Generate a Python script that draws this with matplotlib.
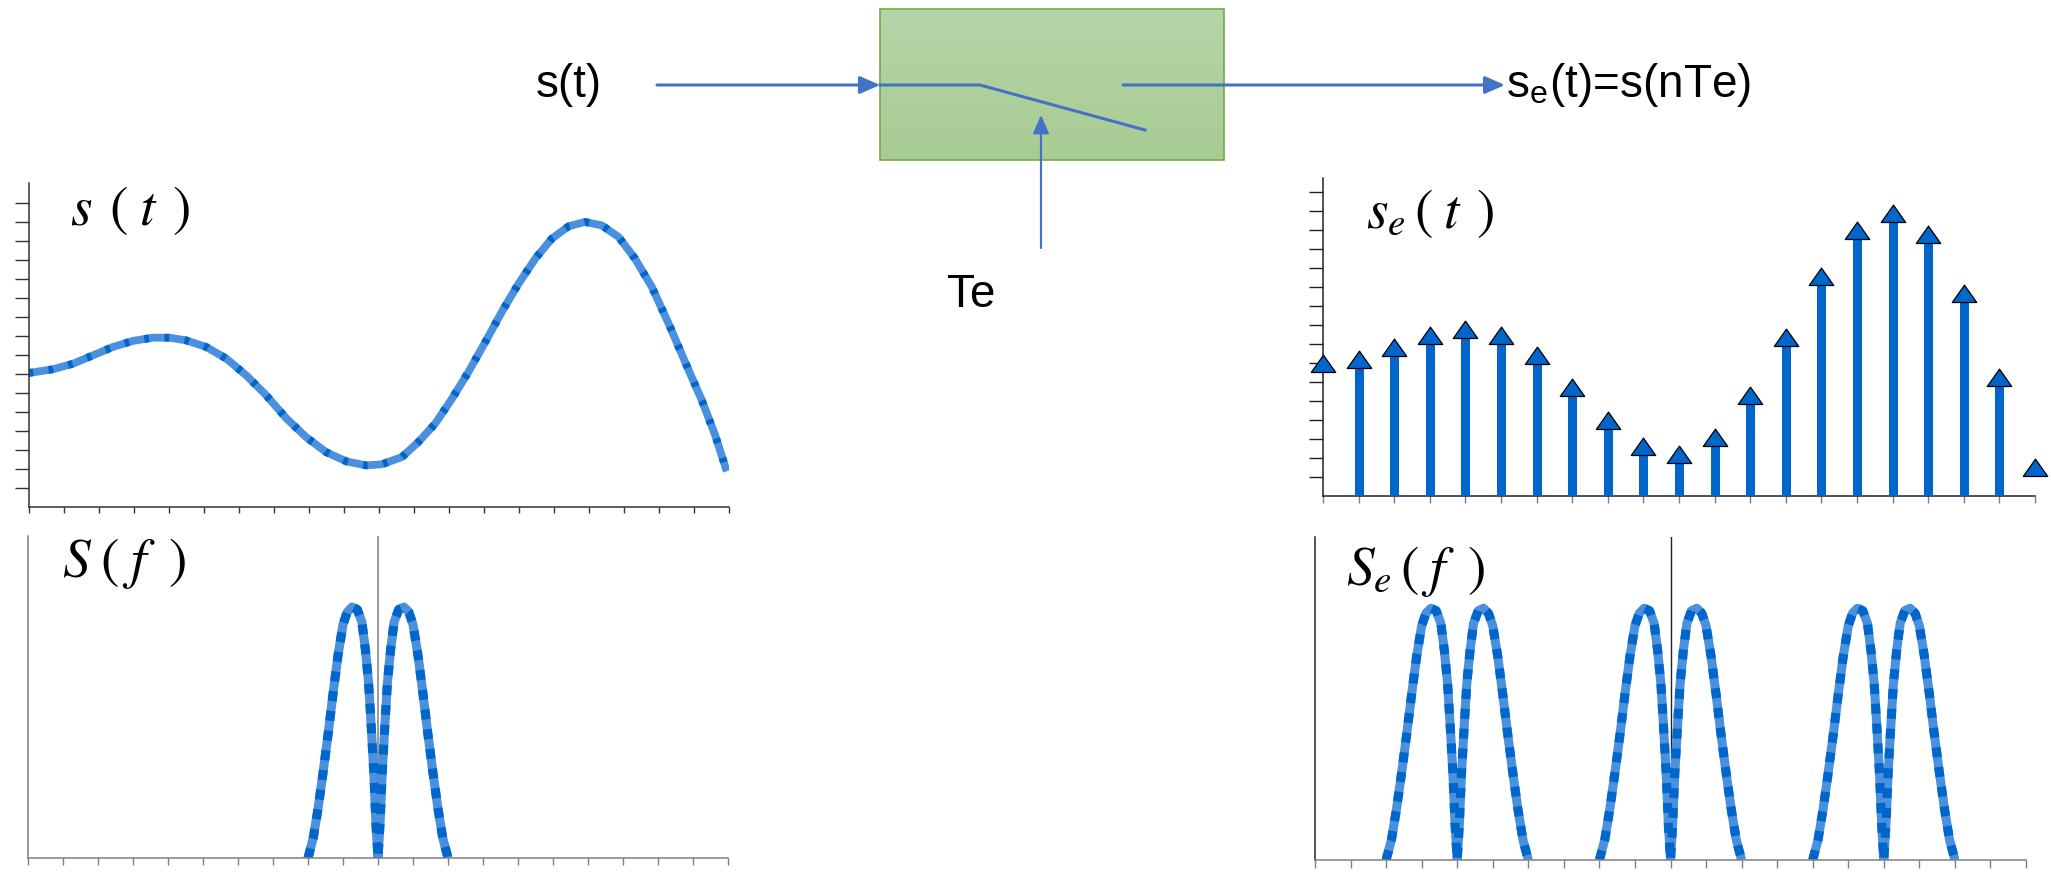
import numpy as np
import matplotlib
matplotlib.use("Agg")
import matplotlib.pyplot as plt
from matplotlib.path import Path
from matplotlib.patches import Rectangle

plt.rcParams['font.family'] = ['Liberation Sans', 'DejaVu Sans']
plt.rcParams['mathtext.fontset'] = 'stix'

# --- data ---
# continuous signal s(t)
t_cont = [0, 0.70, 1.27, 1.84, 2.41, 2.98, 3.55, 4.03, 4.50, 5.08, 5.65, 6.22, 6.79,
          7.36, 7.93, 8.50, 9.08, 9.65, 10.1, 10.67, 11.14, 11.62, 12.10, 12.57, 13.05,
          13.52, 14.0, 14.48, 14.95, 15.43, 15.90, 16.38, 16.86, 17.33, 17.81, 18.29,
          18.76, 19.24, 19.62, 19.95]
s_cont = [7.05, 7.25, 7.54, 7.98, 8.42, 8.74, 8.91, 8.91, 8.77, 8.42, 7.81, 6.93, 5.88,
          4.68, 3.68, 2.89, 2.40, 2.19, 2.25, 2.63, 3.42, 4.39, 5.70, 7.11, 8.68,
          10.26, 11.75, 13.07, 14.12, 14.77, 15.0, 14.82, 14.21, 13.07, 11.58, 9.65,
          7.63, 5.61, 3.77, 1.88]

# sampled signal s_e(t), one sample per Te
n_samples = list(range(21))
s_samples = [6.53, 6.75, 7.37, 8.02, 8.33, 8.02, 6.93, 5.26, 3.51, 2.14, 1.72, 2.63,
             4.82, 7.89, 11.09, 13.54, 14.42, 13.30, 10.21, 5.79, 1.05]
stem_idx = list(range(1, 20))  # first and last sample drawn without a stem

# half of the (even) spectrum S(f), f >= 0
f_half = [0, 0.06, 0.12, 0.20, 0.27, 0.36, 0.46, 0.59, 0.74, 0.88, 1.0, 1.14, 1.28,
          1.42, 1.57, 1.71, 1.85, 2.0]
a_half = [0, 0.14, 0.34, 0.54, 0.70, 0.83, 0.94, 0.99, 1.0, 0.98, 0.93, 0.81, 0.66,
          0.50, 0.34, 0.20, 0.08, 0]
fe = 6
copies = [-1, 0, 1]

W, H = 2051, 879
fig = plt.figure(figsize=(W / 100, H / 100), dpi=100)

LIGHT = '#4a90dc'
DARK = '#0066cc'


def px_axes(x0, y0, x1, y1):
    return fig.add_axes([x0 / W, 1 - y1 / H, (x1 - x0) / W, (y1 - y0) / H])


def style(ax, col, ylen):
    for s in ['top', 'right']:
        ax.spines[s].set_visible(False)
    for s in ['left', 'bottom']:
        ax.spines[s].set_color(col)
        ax.spines[s].set_linewidth(1.1)
    ax.tick_params(axis='y', direction='out', length=ylen, width=1.0, color=col,
                   labelleft=False)
    ax.tick_params(axis='x', direction='out', length=4.5, width=1.0, color=col,
                   labelbottom=False)


def textured(ax, x, y, lw, dash):
    ax.plot(x, y, color=LIGHT, lw=lw, solid_capstyle='butt')
    ax.plot(x, y, color=DARK, lw=lw, dashes=dash, dash_capstyle='butt')


# s(t)
ax1 = px_axes(28.5, 184, 728.5, 508)
ax1.set_xlim(0, 20)
ax1.set_ylim(0, 17.05)
ax1.set_xticks(range(0, 21))
ax1.set_yticks(range(1, 17))
style(ax1, '#333333', 10)
textured(ax1, t_cont, s_cont, 5.6, (0.6, 2.0))
ax1.text(0.059, 0.873, r'$s\;\,(\;t\;\,)$', transform=ax1.transAxes, fontsize=40,
         va='baseline', ha='left')

# S(f)
f_full = [-v for v in f_half[::-1]] + f_half[1:]
a_full = a_half[::-1] + a_half[1:]
ax2 = px_axes(28, 537, 728, 859)
ax2.set_xlim(-10, 10)
ax2.set_ylim(0, 1.283)
ax2.set_xticks(range(-10, 11))
ax2.set_yticks([])
style(ax2, '#7f7f7f', 0)
ax2.tick_params(axis='x', length=5)
ax2.axvline(0, color='#7f7f7f', lw=1.1)
textured(ax2, f_full, a_full, 6.5, (1.1, 1.1))
ax2.text(0.049, 0.876, r'$S\;(\;f\;\;)$', transform=ax2.transAxes, fontsize=40,
         va='baseline', ha='left')

# s_e(t)
ax3 = px_axes(1323, 179, 2035, 497)
ax3.set_xlim(0, 20)
ax3.set_ylim(0, 16.75)
ax3.set_xticks(range(0, 21))
ax3.set_yticks(range(1, 17))
style(ax3, '#222222', 10)
ax3.tick_params(axis='x', length=5, color='#7f7f7f')
ax3.vlines([n_samples[i] for i in stem_idx], 0, [s_samples[i] for i in stem_idx],
           color=DARK, lw=6.5, capstyle='round', zorder=3)
tri = Path([(-1, 0), (1, 0), (0, 1.42), (-1, 0)],
           [Path.MOVETO, Path.LINETO, Path.LINETO, Path.CLOSEPOLY])
ax3.plot(n_samples, s_samples, ls='none', marker=tri, ms=25, mfc=DARK,
         mec='black', mew=0.9, clip_on=False, zorder=4)
ax3.text(0.06, 0.845, r'$s_e\,(\;t\;\,)$', transform=ax3.transAxes, fontsize=40,
         va='baseline', ha='left')

# S_e(f)
ax4 = px_axes(1315, 538, 2026, 861)
ax4.set_xlim(-10, 10)
ax4.set_ylim(0, 1.283)
ax4.set_xticks(range(-10, 11))
ax4.set_yticks([])
style(ax4, '#222222', 0)
ax4.spines['bottom'].set_color('#7f7f7f')
ax4.tick_params(axis='x', length=5.5, color='#7f7f7f')
ax4.axvline(0, color='#222222', lw=1.0)
for k in copies:
    textured(ax4, [v + k * fe for v in f_full], a_full, 6.5, (1.1, 1.1))
ax4.text(0.044, 0.854, r'$S_e\,(\;f\;\;)$', transform=ax4.transAxes, fontsize=40,
         va='baseline', ha='left')

# block diagram on an overlay in pixel coordinates
ov = fig.add_axes([0, 0, 1, 1])
ov.axis('off')
ov.patch.set_alpha(0)

grad = np.linspace(0, 1, 100).reshape(-1, 1)
top_c = np.array([0.71, 0.835, 0.655])
bot_c = np.array([0.66, 0.80, 0.58])
img = top_c[None, None, :] * (1 - grad[:, :, None]) + bot_c[None, None, :] * grad[:, :, None]
ov.imshow(img, extent=[880, 1224, 161, 10], aspect='auto', zorder=1)
ov.add_patch(Rectangle((880, 10), 344, 151, fill=False, ec='#70ad47', lw=1.2, zorder=2))
ov.set_xlim(0, W)
ov.set_ylim(H, 0)

BL = '#4472c4'
head = '-|>,head_length=0.8,head_width=0.35'
ov.annotate('', xy=(880, 86), xytext=(657, 86),
            arrowprops=dict(arrowstyle=head, color=BL, lw=2.2, mutation_scale=15,
                            shrinkA=0, shrinkB=0), zorder=3)
ov.plot([880, 980, 1145], [86, 86, 131], color=BL, lw=2.2, zorder=3)
ov.annotate('', xy=(1505, 86), xytext=(1123, 86),
            arrowprops=dict(arrowstyle=head, color=BL, lw=2.2, mutation_scale=15,
                            shrinkA=0, shrinkB=0), zorder=3)
ov.annotate('', xy=(1041, 116), xytext=(1041, 249),
            arrowprops=dict(arrowstyle=head, color=BL, lw=1.6, mutation_scale=14,
                            shrinkA=0, shrinkB=0), zorder=3)

ov.text(536, 97, 's(t)', fontsize=33, va='baseline', ha='left')
ov.text(1506, 97, r's$_\mathregular{e}$(t)=s(nTe)', fontsize=33, va='baseline', ha='left')
ov.text(971, 295, 'Te', fontsize=33, va='center', ha='center')

fig.savefig('out.png', dpi=100)
